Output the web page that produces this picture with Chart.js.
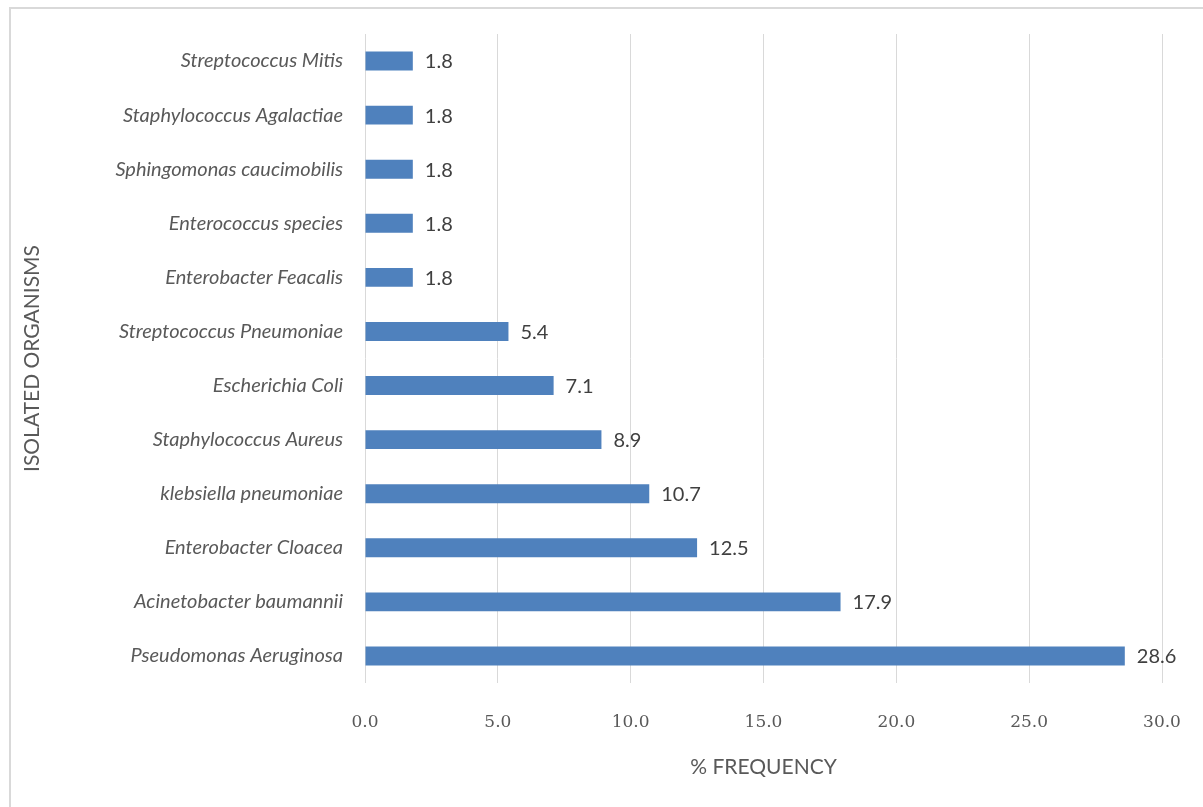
<!DOCTYPE html>
<html>
<head>
<meta charset="utf-8">
<script src="https://cdn.jsdelivr.net/npm/chart.js@4"></script>
<style>
  body { margin: 0; background: #fff; }
  #wrap { position: absolute; left: 0; top: 0; width: 1203px; height: 807px; }
</style>
</head>
<body>
<div id="wrap"><canvas id="organismChart"></canvas></div>
<script>
    // Chart data
    const organisms = [
        'Streptococcus Mitis',
        'Staphylococcus Agalactiae',
        'Sphingomonas caucimobilis',
        'Enterococcus species',
        'Enterobacter Feacalis',
        'Streptococcus Pneumoniae',
        'Escherichia Coli',
        'Staphylococcus Aureus',
        'klebsiella pneumoniae',
        'Enterobacter Cloacea',
        'Acinetobacter baumannii',
        'Pseudomonas Aeruginosa'
    ];
    const frequency = [1.8, 1.8, 1.8, 1.8, 1.8, 5.4, 7.1, 8.9, 10.7, 12.5, 17.9, 28.6];
    const xTicks = [0, 5, 10, 15, 20, 25, 30];

    const grey = '#595959';

    // light frame around the chart, like the office export
    const framePlugin = {
        id: 'frame',
        beforeDraw(chart) {
            const c = chart.ctx;
            c.save();
            c.strokeStyle = '#d9d9d9';
            c.lineWidth = 2;
            c.strokeRect(10, 8, 1300, 900);
            c.restore();
        }
    };

    // value labels at the end of each bar
    const valueLabels = {
        id: 'valueLabels',
        afterDatasetsDraw(chart) {
            const c = chart.ctx;
            const meta = chart.getDatasetMeta(0);
            c.save();
            c.font = '20px Lato';
            c.fillStyle = '#404040';
            c.textAlign = 'left';
            c.textBaseline = 'middle';
            meta.data.forEach((bar, i) => {
                c.fillText(frequency[i].toFixed(1), bar.x + 12, bar.y + 1);
            });
            c.restore();
        }
    };

    const ctx = document.getElementById('organismChart').getContext('2d');
    const organismChart = new Chart(ctx, {
        type: 'bar',
        data: {
            labels: organisms,
            datasets: [{
                label: '% Frequency',
                data: frequency,
                backgroundColor: '#4f81bd',
                barPercentage: 0.35,
                categoryPercentage: 1
            }]
        },
        options: {
            indexAxis: 'y',
            responsive: true,
            maintainAspectRatio: false,
            animation: false,
            layout: { padding: { top: 34, right: 41, left: 0, bottom: 0 } },
            plugins: {
                legend: { display: false },
                tooltip: { enabled: false }
            },
            scales: {
                x: {
                    min: 0,
                    max: 30,
                    afterBuildTicks(scale) {
                        scale.ticks = xTicks.map(v => ({ value: v }));
                    },
                    afterFit(scale) {
                        scale.height = 124;
                        scale.paddingLeft = 0;
                        scale.paddingRight = 0;
                    },
                    grid: { color: '#d9d9d9', drawTicks: false },
                    border: { display: false },
                    ticks: {
                        padding: 29,
                        color: grey,
                        font: { family: 'DejaVu Serif', size: 17 },
                        callback: v => v.toFixed(1)
                    },
                    title: {
                        display: true,
                        text: '% FREQUENCY',
                        color: grey,
                        font: { family: 'Lato', size: 21 },
                        padding: { top: 0, bottom: 27 }
                    }
                },
                y: {
                    afterFit(scale) { scale.width = 365; },
                    grid: { display: false, drawTicks: false },
                    border: { display: false },
                    ticks: {
                        padding: 22,
                        color: grey,
                        autoSkip: false,
                        font: { family: 'Lato', size: 20, style: 'italic' }
                    },
                    title: {
                        display: true,
                        text: 'ISOLATED ORGANISMS',
                        color: grey,
                        font: { family: 'Lato', size: 21 },
                        padding: { top: 20, bottom: 0 }
                    }
                }
            }
        },
        plugins: [framePlugin, valueLabels]
    });
</script>
</body>
</html>
